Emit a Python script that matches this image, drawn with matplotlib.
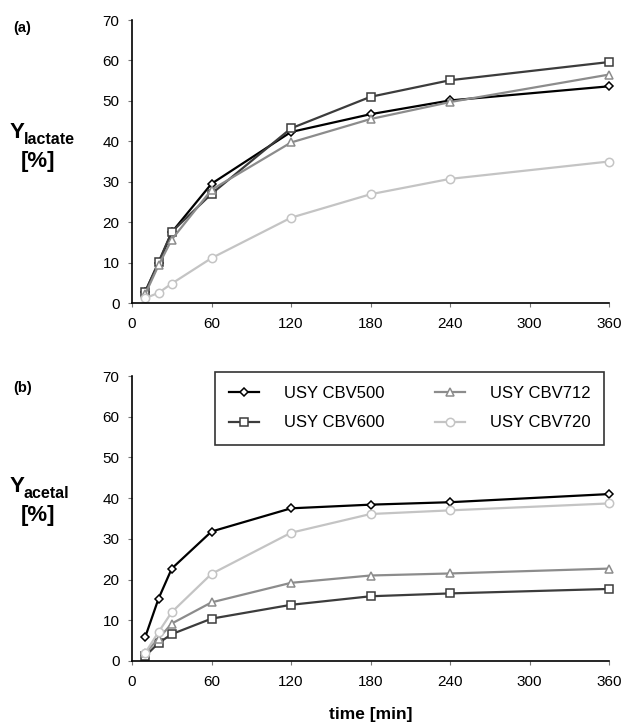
import matplotlib
matplotlib.use('Agg')
import matplotlib.pyplot as plt
import numpy as np

plt.rcParams['font.family'] = ['Liberation Sans', 'DejaVu Sans']

# sampling times [min]
time_min = [10, 20, 30, 60, 120, 180, 240, 360]
series_names = ['USY CBV500', 'USY CBV600', 'USY CBV712', 'USY CBV720']

# (a) lactate yield [%]
lactate_500 = [2.8, 9.8, 17.5, 29.5, 42.3, 46.7, 50.1, 53.6]
lactate_600 = [2.8, 10.1, 17.6, 27.0, 43.2, 51.0, 55.1, 59.6]
lactate_712 = [2.2, 9.3, 15.7, 28.0, 39.7, 45.5, 49.7, 56.5]
lactate_720 = [1.2, 2.5, 4.8, 11.1, 21.1, 26.9, 30.7, 35.0]

# (b) acetal yield [%]
acetal_500 = [5.9, 15.3, 22.7, 31.8, 37.5, 38.4, 39.0, 41.0]
acetal_600 = [1.2, 4.4, 6.6, 10.4, 13.8, 15.9, 16.6, 17.7]
acetal_712 = [2.0, 5.5, 9.2, 14.4, 19.2, 21.0, 21.5, 22.7]
acetal_720 = [2.0, 7.1, 12.0, 21.4, 31.5, 36.1, 37.0, 38.7]

colors = ['#000000', '#3c3c3c', '#8c8c8c', '#c4c4c4']
markers = ['D', 's', '^', 'o']
msizes = [4.5, 6, 6, 6]

W, H = 623, 728
fig = plt.figure(figsize=(W / 100, H / 100), dpi=100)

def px_axes(x0, x1, ytop, ybot):
    return fig.add_axes([x0 / W, 1 - ybot / H, (x1 - x0) / W, (ybot - ytop) / H])

ax1 = px_axes(132, 609, 20, 303)
ax2 = px_axes(132, 609, 376, 661)

for ax, data in [(ax1, [lactate_500, lactate_600, lactate_712, lactate_720]),
                 (ax2, [acetal_500, acetal_600, acetal_712, acetal_720])]:
    for i in range(4):
        ax.plot(time_min, data[i], color=colors[i], marker=markers[i],
                markersize=msizes[i], markerfacecolor='white',
                markeredgecolor=colors[i], markeredgewidth=1.1,
                linewidth=1.6, label=series_names[i], clip_on=False)
    ax.set_xlim(0, 360)
    ax.set_ylim(0, 70)
    ax.set_xticks([0, 60, 120, 180, 240, 300, 360])
    ax.set_yticks(np.arange(0, 71, 10))
    for s in ['top', 'right']:
        ax.spines[s].set_visible(False)
    for s in ['left', 'bottom']:
        ax.spines[s].set_linewidth(1.2)
    ax.tick_params(axis='both', labelsize=11, length=3, width=0.8, color='#777777')
    ax.tick_params(axis='x', pad=7)
    ax.tick_params(axis='y', pad=6)

ax2.set_xlabel('time [min]', fontsize=12.5, fontweight='bold', labelpad=13)

# legend box at its place in the reference (x 215-606, y 372-443)
leg = ax2.legend(ncol=2, loc='upper left',
                 bbox_to_anchor=((215 - 132) / 477, (661 - 372) / 285),
                 borderaxespad=0, fontsize=12, frameon=True, fancybox=False,
                 edgecolor='black', handlelength=1.8, columnspacing=3.0,
                 handletextpad=1.5, borderpad=0.85, labelspacing=0.85)
leg.get_frame().set_linewidth(1.2)

# panel letters and y labels
fig.text(13 / W, 1 - 28 / H, '(a)', fontsize=10.5, fontweight='bold', va='center')
fig.text(13 / W, 1 - 388 / H, '(b)', fontsize=10.5, fontweight='bold', va='center')

fig.text(10 / W, 1 - 133 / H, 'Y', fontsize=16, fontweight='bold', va='center')
fig.text(24 / W, 1 - 140 / H, 'lactate', fontsize=11.5, fontweight='bold', va='center')
fig.text(38 / W, 1 - 161 / H, '[%]', fontsize=16, fontweight='bold', va='center', ha='center')

fig.text(10 / W, 1 - 486 / H, 'Y', fontsize=16, fontweight='bold', va='center')
fig.text(24 / W, 1 - 493 / H, 'acetal', fontsize=11.5, fontweight='bold', va='center')
fig.text(38 / W, 1 - 516 / H, '[%]', fontsize=16, fontweight='bold', va='center', ha='center')

fig.savefig('out.png', dpi=100)
